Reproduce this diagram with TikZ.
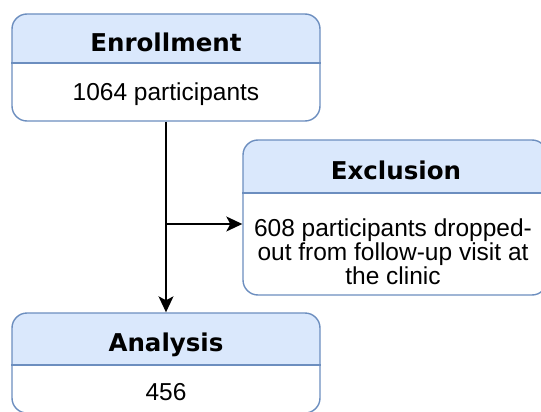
\documentclass[tikz,border=0pt]{standalone}
\usepackage{fontspec}
\setmainfont{Liberation Sans}
\newfontfamily\hdrfont{DejaVu Sans}
\usetikzlibrary{arrows.meta}
\definecolor{boxline}{HTML}{6C8EBF}
\definecolor{hdrfill}{HTML}{DAE8FC}
\tikzset{
  x=1pt, y=1pt,
  panel/.style={draw=boxline, line width=1.4pt, rounded corners=15pt, inner sep=0pt},
  divider/.style={draw=boxline, line width=1.4pt},
  hdrtext/.style={font=\hdrfont\bfseries\fontsize{24.5}{25}\selectfont, inner sep=0pt, anchor=base},
  bodytext/.style={font=\fontsize{24.5}{24}\selectfont, inner sep=0pt, align=center},
  flow/.style={draw=black, line width=1.4pt, -{Stealth[length=16pt,width=15pt,inset=4pt]}},
}
\begin{document}
\begin{tikzpicture}
\useasboundingbox (0,0) rectangle (541,-412);
\begin{scope}
\clip (0,0) rectangle (541,-412);
% header fills
\fill[hdrfill] (12,-63) [rounded corners=15pt]-- (12,-14) -- (320,-14) [sharp corners]-- (320,-63) -- cycle;
\fill[hdrfill] (243,-193) [rounded corners=15pt]-- (243,-140) -- (547,-140) [sharp corners]-- (547,-193) -- cycle;
\fill[hdrfill] (12,-365) [rounded corners=15pt]-- (12,-313) -- (320,-313) [sharp corners]-- (320,-365) -- cycle;
% panels
\node[panel, minimum width=308pt, minimum height=107pt] (enr) at (166,-67.5) {};
\node[panel, minimum width=304pt, minimum height=155pt] (exc) at (395,-217.5) {};
\node[panel, minimum width=308pt, minimum height=100pt] (ana) at (166,-363) {};
% dividers
\draw[divider] (enr.west |- 0,-63) -- (enr.east |- 0,-63);
\draw[divider] (exc.west |- 0,-193) -- (exc.east |- 0,-193);
\draw[divider] (ana.west |- 0,-365) -- (ana.east |- 0,-365);
% texts
\node[hdrtext] (enrh) at (166,-51.5) {Enrollment};
\node[bodytext, anchor=base] (enrb) at (166,-100.5) {1064 participants};
\node[hdrtext] (exch) at (396,-179) {Exclusion};
\node[bodytext, anchor=center] (excb) at (393,-252) {608 participants dropped-\\out from follow-up visit at\\the clinic};
\node[hdrtext] (anah) at (166,-351.5) {Analysis};
\node[bodytext, anchor=base] (anab) at (166,-400) {456};
% connectors
\coordinate (br) at (166,-224);
\draw[flow] (enr.south) -- (ana.north);
\draw[flow] (br) -- (br -| exc.west);
\end{scope}
\end{tikzpicture}
\end{document}
